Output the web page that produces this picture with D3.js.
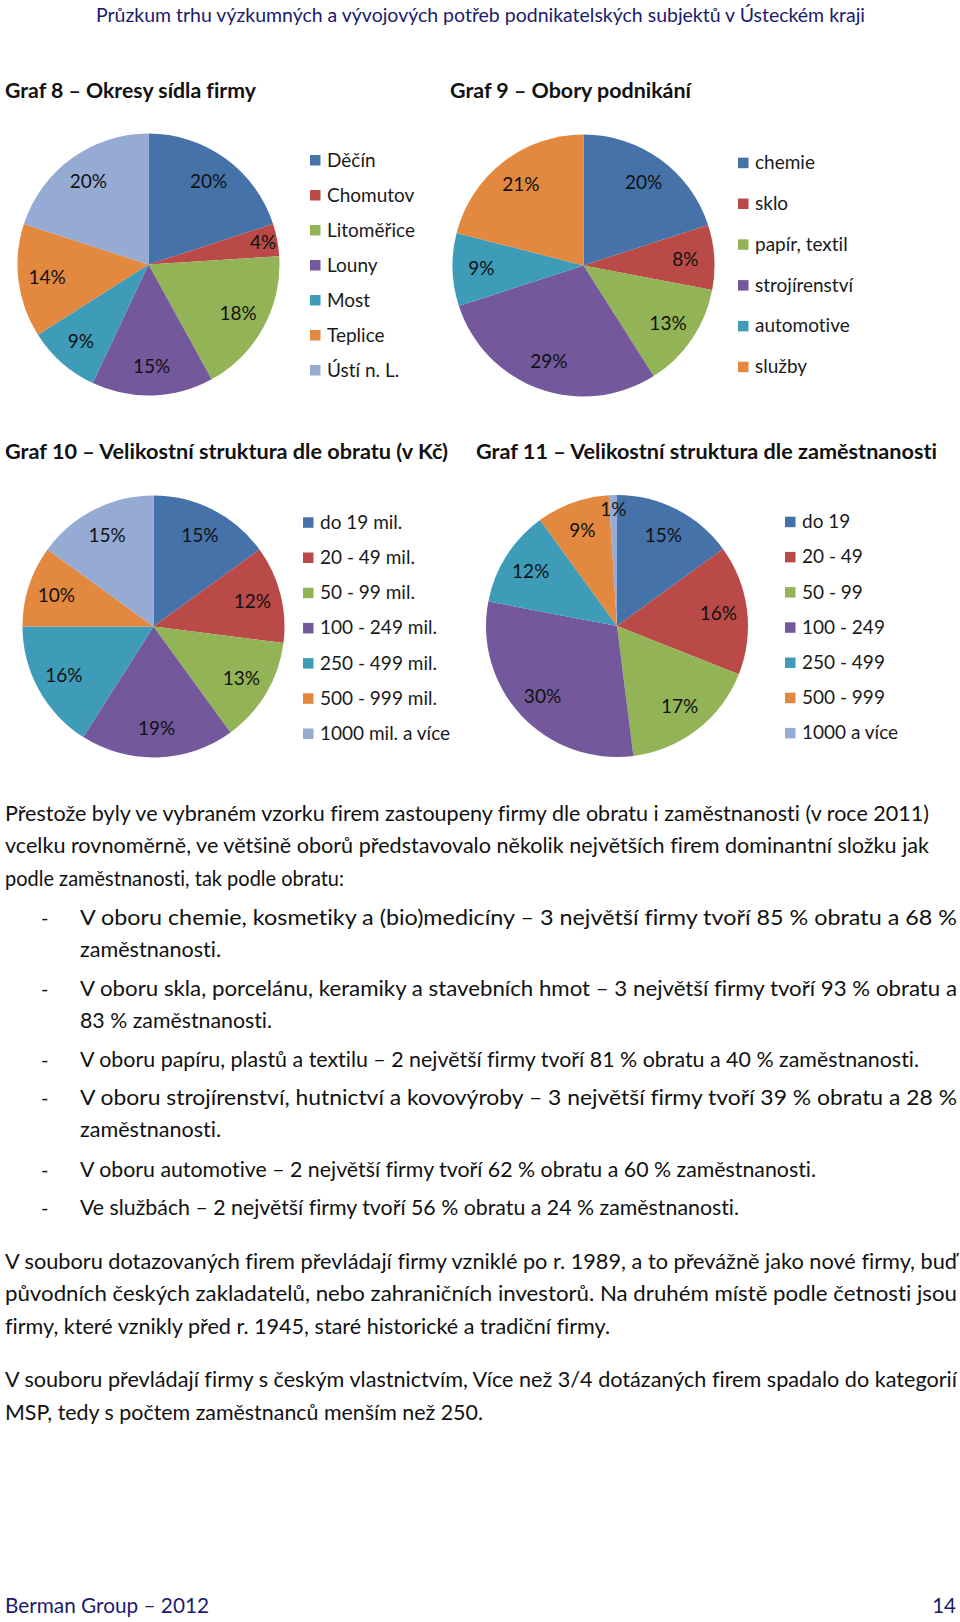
<!DOCTYPE html>
<html><head><meta charset="utf-8">
<script src="https://cdn.jsdelivr.net/npm/d3@7"></script>
<style>html,body{margin:0;padding:0;background:#fff} text{font-variant-ligatures:none;font-feature-settings:"liga" 0}</style>
</head><body>
<svg id="c" width="960" height="1622"></svg>
<script>
// ---- chart data ----
const okresyLabels = ["Děčín","Chomutov","Litoměřice","Louny","Most","Teplice","Ústí n. L."];
const okresyValues = [20,4,18,15,9,14,20];
const oboryLabels = ["chemie","sklo","papír, textil","strojírenství","automotive","služby"];
const oboryValues = [20,8,13,29,9,21];
const obratLabels = ["do 19 mil.","20 - 49 mil.","50 - 99 mil.","100 - 249 mil.","250 - 499 mil.","500 - 999 mil.","1000 mil. a více"];
const obratValues = [15,12,13,19,16,10,15];
const zamLabels = ["do 19","20 - 49","50 - 99","100 - 249","250 - 499","500 - 999","1000 a více"];
const zamValues = [15,16,17,30,12,9,1];
const chartTitles = ["Graf 8 – Okresy sídla firmy","Graf 9 – Obory podnikání","Graf 10 – Velikostní struktura dle obratu (v Kč)","Graf 11 – Velikostní struktura dle zaměstnanosti"];
const palette = ["#4672AA","#B94A48","#93B456","#73589B","#3F9CB8","#E2883F","#95ABD3"];

const headerText = "Průzkum trhu výzkumných a vývojových potřeb podnikatelských subjektů v Ústeckém kraji";
const footerLeft = "Berman Group – 2012";
const footerRight = "14";

const bodyLines = [
  {t:"Přestože byly ve vybraném vzorku firem zastoupeny firmy dle obratu i zaměstnanosti (v roce 2011)", x:5, w:924, y:814},
  {t:"vcelku rovnoměrně, ve většině oborů představovalo několik největších firem dominantní složku jak", x:5, w:924, y:846},
  {t:"podle zaměstnanosti, tak podle obratu:", x:5, w:339, y:879},
  {t:"V oboru chemie, kosmetiky a (bio)medicíny – 3 největší firmy tvoří 85 % obratu a 68 %", x:80, w:877, y:918, dash:true},
  {t:"zaměstnanosti.", x:80, w:141, y:950},
  {t:"V oboru skla, porcelánu, keramiky a stavebních hmot – 3 největší firmy tvoří 93 % obratu a", x:80, w:877, y:989, dash:true},
  {t:"83 % zaměstnanosti.", x:80, w:192, y:1021},
  {t:"V oboru papíru, plastů a textilu – 2 největší firmy tvoří 81 % obratu a 40 % zaměstnanosti.", x:80, w:839, y:1060, dash:true},
  {t:"V oboru strojírenství, hutnictví a kovovýroby – 3 největší firmy tvoří 39 % obratu a 28 %", x:80, w:877, y:1098.5, dash:true},
  {t:"zaměstnanosti.", x:80, w:141, y:1130.5},
  {t:"V oboru automotive – 2 největší firmy tvoří 62 % obratu a 60 % zaměstnanosti.", x:80, w:736, y:1170, dash:true},
  {t:"Ve službách – 2 největší firmy tvoří 56 % obratu a 24 % zaměstnanosti.", x:80, w:659, y:1208, dash:true},
  {t:"V souboru dotazovaných firem převládají firmy vzniklé po r. 1989, a to převážně jako nové firmy, buď", x:5, w:952, y:1262},
  {t:"původních českých zakladatelů, nebo zahraničních investorů. Na druhém místě podle četnosti jsou", x:5, w:952, y:1294},
  {t:"firmy, které vznikly před r. 1945, staré historické a tradiční firmy.", x:5, w:605, y:1327},
  {t:"V souboru převládají firmy s českým vlastnictvím, Více než 3/4 dotázaných firem spadalo do kategorií", x:5, w:952, y:1380},
  {t:"MSP, tedy s počtem zaměstnanců menším než 250.", x:5, w:478, y:1413}
];

const FONT = "Lato, 'Open Sans', sans-serif";
const svg = d3.select("#c");
svg.append("rect").attr("width",960).attr("height",1622).attr("fill","#fff");

function line(x, cy, str, w, size, opts={}) {
  const t = svg.append("text")
    .attr("x", x).attr("y", cy + size*0.33)
    .attr("font-family", FONT).attr("font-size", size)
    .attr("fill", opts.fill || "#111")
    .attr("font-weight", opts.bold ? 700 : 400)
    .text(str);
  if (opts.anchor) t.attr("text-anchor", opts.anchor);
  if (w) t.attr("textLength", w).attr("lengthAdjust", "spacingAndGlyphs");
  return t;
}

// header & footer
line(96, 15.5, headerText, 769, 18.5, {fill:"#1b1b6c"});
line(5, 1606.5, footerLeft, 204, 20.5, {fill:"#1b1b6c"});
line(956, 1606.5, footerRight, null, 20.5, {fill:"#1b1b6c", anchor:"end"});

// chart titles
line(5, 91, chartTitles[0], 251, 20.5, {bold:true});
line(450, 91, chartTitles[1], 241, 20.5, {bold:true});
line(5, 452, chartTitles[2], 443, 20.5, {bold:true});
line(476, 452, chartTitles[3], 461, 20.5, {bold:true});

// pies
function pieChart(cfg) {
  const data = cfg.values.map((v,i)=>({v, label: cfg.labels[i], i}));
  const pie = d3.pie().value(d=>d.v).sort(null);
  const arcs = pie(data);
  const arc = d3.arc().innerRadius(0).outerRadius(cfg.r);
  const g = svg.append("g").attr("transform", `translate(${cfg.cx},${cfg.cy})`);
  g.selectAll("path").data(arcs).join("path")
    .attr("d", arc).attr("fill", d=>palette[d.data.i]);
  g.selectAll("text").data(arcs).join("text")
    .attr("transform", d => {
      const f = d.data.v < 5 ? 0.89 : 0.78;
      const a = (d.startAngle + d.endAngle)/2;
      return `translate(${Math.sin(a)*cfg.r*f},${-Math.cos(a)*cfg.r*f})`;
    })
    .attr("text-anchor","middle").attr("dy","0.35em")
    .attr("font-family", FONT).attr("font-size", 19).attr("fill","#111")
    .text(d => d.data.v + "%");
  // legend
  const y = d3.scalePoint().domain(d3.range(data.length)).range([cfg.ly0, cfg.ly0 + cfg.step*(data.length-1)]);
  const lg = svg.append("g");
  lg.selectAll("rect").data(data).join("rect")
    .attr("x", cfg.lx).attr("y", d=>y(d.i)-5).attr("width", 10.5).attr("height", 10.5)
    .attr("fill", d=>palette[d.i]);
  lg.selectAll("text").data(data).join("text")
    .attr("x", cfg.lx + 17).attr("y", d=>y(d.i)+6.5)
    .attr("font-family", FONT).attr("font-size", 19).attr("fill","#1a1a1a")
    .text(d=>d.label);
}

pieChart({labels:okresyLabels, values:okresyValues, cx:148.5, cy:264.5, r:131, lx:310, ly0:160, step:35});
pieChart({labels:oboryLabels, values:oboryValues, cx:583.5, cy:265.5, r:131, lx:738, ly0:162.7, step:40.8});
pieChart({labels:obratLabels, values:obratValues, cx:153.5, cy:626.5, r:131, lx:303, ly0:522.3, step:35.2});
pieChart({labels:zamLabels, values:zamValues, cx:617, cy:626, r:131, lx:785, ly0:521.7, step:35.2});

// body text
bodyLines.forEach(l => {
  line(l.x, l.y, l.t, l.w, 20.5);
  if (l.dash) line(41, l.y, "-", null, 20);
});
</script>
</body></html>
